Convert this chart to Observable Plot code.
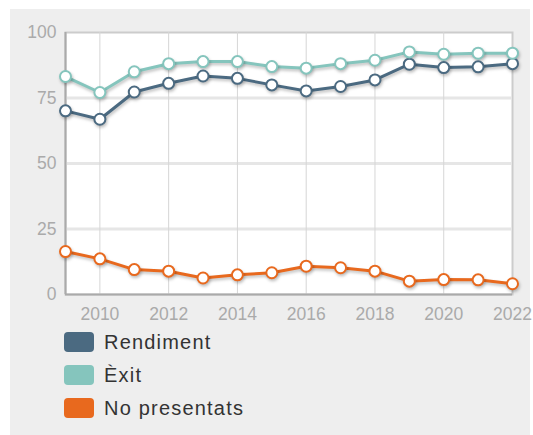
<!DOCTYPE html>
<html><head><meta charset="utf-8">
<script src="https://cdn.jsdelivr.net/npm/d3@7"></script>
<script src="https://cdn.jsdelivr.net/npm/@observablehq/plot@0.6"></script>
<style>
body{margin:0;background:#fff;font-family:Arial,"Liberation Sans",sans-serif;}
#panel{position:absolute;left:10px;top:9px;width:520px;height:426px;background:#eeeeee;}
#chart svg{overflow:visible;}
#legend{position:absolute;left:54px;top:323px;}
.item{display:flex;align-items:center;height:20px;margin-bottom:13px;}
.sw{width:30px;height:20px;border-radius:4px;margin-right:10px;}
.lab{font-size:20px;letter-spacing:1.2px;color:#333333;}
</style></head>
<body>
<div id="panel"><div id="chart"></div><div id="legend"></div></div>
<script>
const years = [2009,2010,2011,2012,2013,2014,2015,2016,2017,2018,2019,2020,2021,2022];
const rendiment = [70.1,66.9,77.3,80.6,83.4,82.5,80.0,77.7,79.4,81.9,87.9,86.6,86.9,88.1];
const exit = [83.2,77.1,85.0,88.1,88.9,88.9,87.0,86.4,88.1,89.4,92.6,91.7,92.1,92.1];
const noPresentats = [16.4,13.6,9.5,8.9,6.3,7.5,8.3,10.8,10.2,8.9,5.1,5.7,5.6,4.1];
const seriesNames = ["Rendiment","Èxit","No presentats"];
const seriesColors = ["#4b6a81","#85c5bd","#e8691e"];
const xTicks = [2010,2012,2014,2016,2018,2020,2022];
const yTicks = [0,25,50,75,100];

const seriesValues = [rendiment, exit, noPresentats];
const data = [];
seriesNames.forEach((s,i)=>years.forEach((y,j)=>data.push({serie:s, year:y, value:seriesValues[i][j]})));

const color = {domain:seriesNames, range:seriesColors};
const chart = Plot.plot({
  width:520, height:320,
  marginLeft:55, marginRight:18, marginTop:23, marginBottom:35,
  style:{background:"transparent", fontFamily:"Arial, 'Liberation Sans', sans-serif", fontSize:"17px", color:"#aaaaaa", overflow:"visible"},
  x:{domain:[2009,2022], ticks:xTicks, tickFormat:d=>String(d), tickSize:0, tickPadding:13, label:null},
  y:{domain:[0,100], ticks:yTicks, tickSize:0, tickPadding:9, label:null},
  color,
  marks:[
    Plot.frame({fill:"white", stroke:"#cccccc", strokeWidth:2}),
    Plot.gridY([25,50,75], {stroke:"#e6e6e6", strokeWidth:3, strokeOpacity:1}),
    Plot.gridX([2010,2012,2014,2016,2018,2020], {stroke:"#d6d6d6", strokeWidth:1, strokeOpacity:1}),
    Plot.ruleX([2009], {stroke:"#aaaaaa", strokeWidth:2}),
    Plot.ruleY([0], {stroke:"#aaaaaa", strokeWidth:2}),
    Plot.line(data, {x:"year", y:"value", z:"serie", stroke:"serie", strokeWidth:3}),
    Plot.dot(data, {x:"year", y:"value", stroke:"serie", fill:"white", r:5.5, strokeWidth:2}),
    Plot.axisX({ticks:xTicks, tickFormat:d=>String(d), tickSize:0, tickPadding:13, fill:"#aaaaaa", fontSize:17.5}),
    Plot.axisY({ticks:yTicks, tickSize:0, tickPadding:9, fill:"#aaaaaa", fontSize:17.5})
  ]
});
document.getElementById("chart").appendChild(chart);
d3.select(chart).selectAll('g[aria-label="line"], g[aria-label="dot"]').style("filter","drop-shadow(1px 2px 1.5px rgba(0,0,0,0.25))");

const leg = d3.select("#legend");
seriesNames.forEach((s,i)=>{
  const it = leg.append("div").attr("class","item");
  it.append("div").attr("class","sw").style("background", seriesColors[i]);
  it.append("span").attr("class","lab").text(s);
});
</script>
</body></html>
